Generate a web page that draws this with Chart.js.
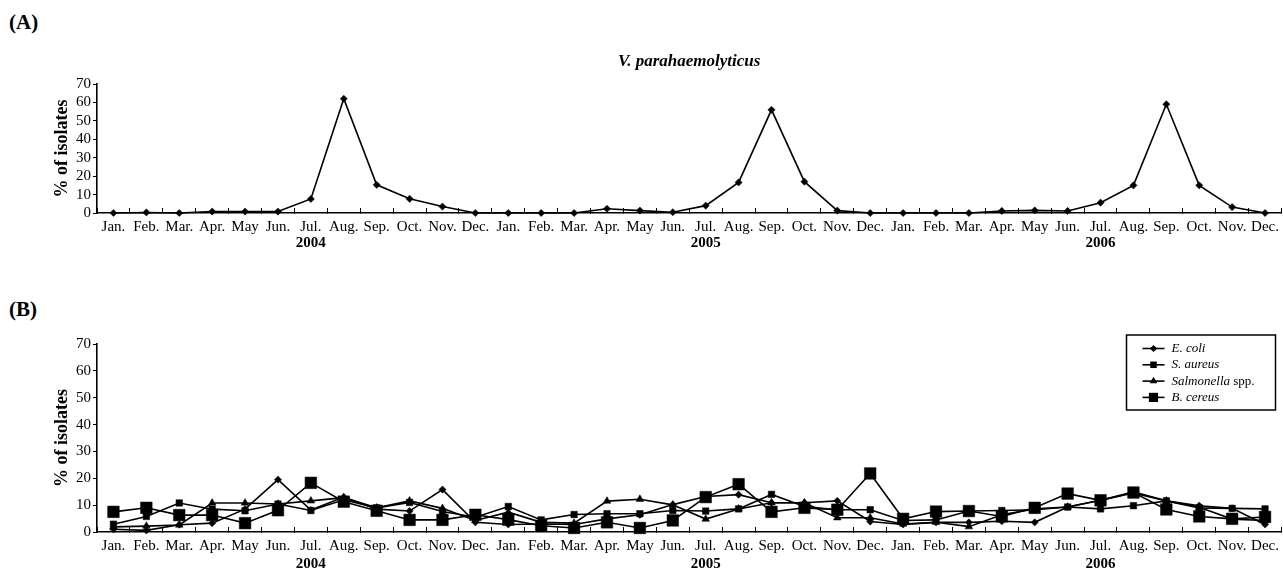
<!DOCTYPE html>
<html>
<head>
<meta charset="utf-8">
<script src="https://cdn.jsdelivr.net/npm/chart.js@4.4.1/dist/chart.umd.min.js"></script>
<style>
  html, body { margin: 0; padding: 0; background: #fff; }
  body { width: 1283px; height: 572px; overflow: hidden; position: relative;
         font-family: "Liberation Serif", "Times New Roman", serif; }
  .plabel { position: absolute; font-weight: bold; font-size: 21px; line-height: 1; color: #000; }
  canvas { position: absolute; left: 0; }
</style>
</head>
<body>
<div class="plabel" style="left:9px;top:12px">(A)</div>
<div class="plabel" style="left:9px;top:299px">(B)</div>
<canvas id="chartA" width="1283" height="253" style="top:0px"></canvas>
<canvas id="chartB" width="1283" height="312" style="top:260px"></canvas>
<script>
// ---------------- DATA ----------------
const monthLabels = ['Jan.','Feb.','Mar.','Apr.','May','Jun.','Jul.','Aug.','Sep.','Oct.','Nov.','Dec.',
                     'Jan.','Feb.','Mar.','Apr.','May','Jun.','Jul.','Aug.','Sep.','Oct.','Nov.','Dec.',
                     'Jan.','Feb.','Mar.','Apr.','May','Jun.','Jul.','Aug.','Sep.','Oct.','Nov.','Dec.'];
const yearLabels = ['2004','2005','2006'];
const yTicks = [0,10,20,30,40,50,60,70];
const yTitle = '% of isolates';
const titleA = 'V. parahaemolyticus';

const vParahaemolyticus = [0,0.3,0,0.8,0.8,0.8,7.6,62,15.3,7.7,3.5,0,
                           0,0,0,2.3,1.3,0.4,4,16.6,56,17,1.3,0,
                           0,0,0,1.1,1.4,1.1,5.6,15,59,15,3.2,0];

const seriesNames = ['E. coli','S. aureus','Salmonella spp.','B. cereus'];
const eColi      = [1,0.6,2.7,3.3,8.5,19.5,8.2,13,8.5,7.8,15.8,3.6,
                    2.8,3,2.8,4.9,6.4,10.2,13.2,13.9,10.9,10.9,11.6,3.9,
                    2.8,3.6,3.6,4,3.6,9.3,11.8,14.5,11.6,9.8,8.8,2.8];
const sAureus    = [2.9,5.8,10.8,8.5,7.9,10.4,8,12,9,11,7.6,5.5,
                    9.5,4.5,6.5,6.8,6.8,8,7.8,8.6,14,9.5,8.3,8.3,
                    4.3,4.5,7.8,8,8.3,9.3,8.6,9.8,11.6,9,8.8,8.6];
const salmonella = [1.9,2.2,2.6,10.8,10.8,10.4,11.6,12.8,9,11.6,8.8,4.3,
                    7.4,3.6,3.3,11.5,12.2,10.1,4.8,8.6,10.9,10.9,5.3,5.3,
                    3,3.6,2,6.4,8.6,9.3,11.8,15,11.6,9.2,4.8,4.3];
const bCereus    = [7.5,9,6.3,6.3,3.3,8.1,18.3,11.3,7.9,4.5,4.5,6.4,
                    4.6,2.3,1.5,3.6,1.5,4.3,13,17.8,7.5,9,8.3,21.8,
                    4.9,7.6,7.8,5.8,9,14.3,11.8,14.7,8.4,5.8,4.9,5.6];

// ---------------- STYLE ----------------
const FONT = '"Liberation Serif", "Times New Roman", serif';
const markerStyles = [
  {pointStyle:'rectRot', radius:3.6},
  {pointStyle:'rect', radius:4.6},
  {pointStyle:'triangle', radius:4.4},
  {pointStyle:'rect', radius:8.2}
];

function lineDataset(label, data, m) {
  return {
    label, data,
    borderColor:'#000', borderWidth:1.6, tension:0, fill:false,
    pointStyle:m.pointStyle, pointRadius:m.radius, pointHoverRadius:m.radius,
    pointBackgroundColor:'#000', pointBorderColor:'#000', pointBorderWidth:0.5,
    clip:false
  };
}

function makeOptions(padTop, tickPad) {
  return {
    responsive:false, animation:false, events:[],
    layout:{autoPadding:false, padding:{left:48, top:padTop, right:1.5, bottom:0}},
    plugins:{legend:{display:false}, tooltip:{enabled:false}, title:{display:false}},
    scales:{
      x:{
        type:'category', offset:true,
        grid:{display:true, drawOnChartArea:false, drawTicks:true, tickLength:-5, offset:true, color:'#000', lineWidth:1},
        border:{display:true, color:'#000', width:1.6},
        ticks:{autoSkip:false, maxRotation:0, minRotation:0, padding:tickPad, color:'#000',
               font:{family:FONT, size:15}},
        afterFit(s){ s.height = 40; s.paddingLeft = 0; s.paddingRight = 0; }
      },
      y:{
        min:0, max:70,
        afterBuildTicks(s){ s.ticks = yTicks.map(v => ({value:v})); },
        ticks:{autoSkip:false, color:'#000', padding:2, font:{family:FONT, size:15}},
        grid:{display:true, drawOnChartArea:false, drawTicks:true, tickLength:4, color:'#000', lineWidth:1},
        border:{display:true, color:'#000', width:1.6},
        title:{display:true, text:yTitle, color:'#000', padding:{top:4,bottom:4},
               font:{family:FONT, size:18, weight:'bold'}},
        afterFit(s){ s.width = 49; }
      }
    }
  };
}

// year label centred under the July of each year
function yearPlugin(offsetY) {
  return {
    id:'years',
    afterDraw(chart) {
      const ctx = chart.ctx, xs = chart.scales.x, ca = chart.chartArea;
      ctx.save();
      ctx.font = 'bold 15px ' + FONT;
      ctx.fillStyle = '#000';
      ctx.textAlign = 'center';
      ctx.textBaseline = 'middle';
      yearLabels.forEach((yl, k) => {
        ctx.fillText(yl, xs.getPixelForValue(6 + 12*k), ca.bottom + offsetY);
      });
      ctx.restore();
    }
  };
}

const titlePlugin = {
  id:'titleA',
  afterDraw(chart) {
    const ctx = chart.ctx, ca = chart.chartArea;
    ctx.save();
    ctx.font = 'italic bold 17px ' + FONT;
    ctx.fillStyle = '#000';
    ctx.textAlign = 'center';
    ctx.textBaseline = 'middle';
    ctx.fillText(titleA, (ca.left + ca.right)/2, 62);
    ctx.restore();
  }
};

function drawMarker(ctx, style, r, x, y) {
  ctx.beginPath();
  if (style === 'rectRot') {
    ctx.moveTo(x, y - r); ctx.lineTo(x + r, y); ctx.lineTo(x, y + r); ctx.lineTo(x - r, y);
  } else if (style === 'rect') {
    const s = r * Math.SQRT1_2;
    ctx.rect(x - s, y - s, 2*s, 2*s);
  } else if (style === 'triangle') {
    ctx.moveTo(x, y - r);
    ctx.lineTo(x + r*Math.sin(Math.PI*2/3), y - r*Math.cos(Math.PI*2/3));
    ctx.lineTo(x - r*Math.sin(Math.PI*2/3), y - r*Math.cos(Math.PI*2/3));
  }
  ctx.closePath();
  ctx.fill();
}

const boxLegend = {
  id:'boxLegend',
  afterDraw(chart) {
    const ctx = chart.ctx, ca = chart.chartArea;
    const bx = ca.right - 155, by = ca.top - 9, bw = 149, bh = 75;
    ctx.save();
    ctx.strokeStyle = '#000'; ctx.lineWidth = 1.5;
    ctx.strokeRect(bx, by, bw, bh);
    chart.data.datasets.forEach((ds, i) => {
      const y = by + 13.5 + i * 16.3;
      ctx.strokeStyle = '#000'; ctx.lineWidth = 1.6;
      ctx.beginPath(); ctx.moveTo(bx + 16, y); ctx.lineTo(bx + 38, y); ctx.stroke();
      ctx.fillStyle = '#000';
      drawMarker(ctx, ds.pointStyle, Math.min(ds.pointRadius, 6.5), bx + 27, y);
      let name = ds.label, rest = '';
      if (name.endsWith(' spp.')) { rest = ' spp.'; name = name.slice(0, -5); }
      ctx.textAlign = 'left'; ctx.textBaseline = 'middle';
      ctx.font = 'italic 13px ' + FONT;
      ctx.fillText(name, bx + 45, y);
      if (rest) {
        const w = ctx.measureText(name).width;
        ctx.font = '13px ' + FONT;
        ctx.fillText(rest, bx + 45 + w, y);
      }
    });
    ctx.restore();
  }
};

new Chart(document.getElementById('chartA'), {
  type:'line',
  data:{labels:monthLabels, datasets:[lineDataset(titleA, vParahaemolyticus, markerStyles[0])]},
  options:makeOptions(84, 10),
  plugins:[yearPlugin(30), titlePlugin]
});

const seriesB = [eColi, sAureus, salmonella, bCereus];
new Chart(document.getElementById('chartB'), {
  type:'line',
  data:{labels:monthLabels,
        datasets:seriesB.map((d, i) => lineDataset(seriesNames[i], d, markerStyles[i]))},
  options:makeOptions(84, 10),
  plugins:[yearPlugin(32), boxLegend]
});
</script>
</body>
</html>
